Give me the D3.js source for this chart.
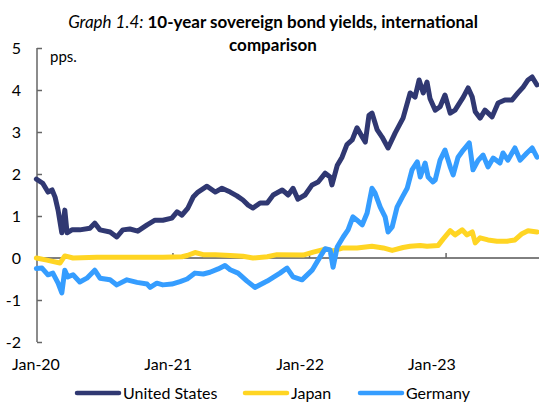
<!DOCTYPE html>
<html><head><meta charset="utf-8">
<script src="https://cdn.jsdelivr.net/npm/d3@7"></script>
<style>
html,body{margin:0;padding:0;background:#fff;}
svg{display:block;font-family:Lato,"Open Sans",sans-serif;}
</style></head>
<body>
<svg id="chart" width="539" height="403"></svg>
<script>
const seriesNames = ["United States", "Japan", "Germany"];
const seriesColors = ["#303872", "#FFD523", "#359DFF"];
const yTicks = [5, 4, 3, 2, 1, 0, -1, -2];
const xTickLabels = ["Jan-20", "Jan-21", "Jan-22", "Jan-23"];
const xTickDates = ["2020-01-01", "2021-01-01", "2022-01-01", "2023-01-01"];

const usDates = ["2020-01-02","2020-01-19","2020-02-02","2020-02-13","2020-02-21","2020-02-29","2020-03-10","2020-03-18","2020-03-24","2020-04-06","2020-04-27","2020-05-24","2020-06-06","2020-06-20","2020-07-17","2020-08-04","2020-08-20","2020-09-08","2020-09-29","2020-10-24","2020-11-14","2020-12-05","2020-12-29","2021-01-12","2021-01-25","2021-02-10","2021-02-24","2021-03-09","2021-04-02","2021-04-24","2021-05-12","2021-06-03","2021-06-21","2021-07-07","2021-07-21","2021-08-03","2021-08-22","2021-09-10","2021-09-26","2021-10-20","2021-11-05","2021-11-18","2021-12-01","2021-12-20","2022-01-08","2022-01-24","2022-02-12","2022-02-25","2022-03-02","2022-03-16","2022-03-29","2022-04-11","2022-04-25","2022-05-08","2022-05-22","2022-05-30","2022-06-09","2022-06-17","2022-07-01","2022-07-14","2022-07-30","2022-08-18","2022-09-08","2022-09-27","2022-10-10","2022-10-21","2022-11-01","2022-11-11","2022-11-19","2022-12-03","2022-12-16","2022-12-29","2023-01-12","2023-01-25","2023-02-16","2023-03-01","2023-03-12","2023-03-20","2023-04-02","2023-04-15","2023-05-04","2023-05-20","2023-06-07","2023-06-26","2023-07-12","2023-07-26","2023-08-08","2023-08-19","2023-09-01"];
const usValues = [1.88,1.78,1.57,1.62,1.45,1.14,0.60,1.14,0.60,0.67,0.67,0.71,0.83,0.67,0.62,0.50,0.67,0.69,0.64,0.79,0.90,0.90,0.95,1.10,1.02,1.19,1.45,1.57,1.71,1.57,1.66,1.57,1.48,1.38,1.26,1.19,1.31,1.31,1.50,1.62,1.50,1.66,1.40,1.50,1.74,1.81,2.02,1.93,1.74,2.20,2.40,2.70,2.81,3.10,2.88,2.76,3.40,3.45,3.05,2.88,2.62,2.98,3.33,3.93,3.83,4.24,3.93,4.19,3.80,3.52,3.60,3.88,3.45,3.52,3.83,4.05,3.83,3.48,3.33,3.52,3.36,3.69,3.76,3.76,3.93,4.07,4.24,4.31,4.12];

const jpDates = ["2020-01-02","2020-01-30","2020-03-05","2020-03-18","2020-04-09","2020-06-12","2020-09-08","2020-12-05","2021-01-25","2021-02-08","2021-03-01","2021-03-23","2021-04-24","2021-06-03","2021-07-07","2021-08-03","2021-09-10","2021-10-06","2021-12-15","2022-01-11","2022-02-12","2022-03-05","2022-04-01","2022-05-08","2022-06-17","2022-07-17","2022-08-10","2022-09-08","2022-09-27","2022-10-24","2022-11-11","2022-12-11","2022-12-24","2023-01-12","2023-01-25","2023-02-13","2023-02-26","2023-03-12","2023-03-20","2023-04-02","2023-04-23","2023-05-17","2023-06-13","2023-07-04","2023-07-23","2023-08-08","2023-09-01"];
const jpValues = [0.00,-0.05,-0.12,0.05,0.00,0.02,0.02,0.02,0.03,0.06,0.13,0.08,0.08,0.06,0.04,0.00,0.03,0.08,0.07,0.14,0.21,0.17,0.24,0.24,0.28,0.24,0.18,0.25,0.28,0.30,0.28,0.30,0.45,0.65,0.55,0.67,0.55,0.62,0.36,0.48,0.43,0.40,0.40,0.43,0.58,0.65,0.62];

const deDates = ["2020-01-02","2020-01-17","2020-02-02","2020-02-15","2020-02-29","2020-03-10","2020-03-18","2020-03-26","2020-04-09","2020-04-27","2020-05-16","2020-06-06","2020-06-20","2020-07-17","2020-08-04","2020-08-31","2020-09-27","2020-10-24","2020-11-01","2020-11-19","2020-12-05","2020-12-29","2021-01-20","2021-02-08","2021-03-01","2021-03-23","2021-04-10","2021-05-02","2021-05-20","2021-06-03","2021-06-24","2021-07-18","2021-08-08","2021-09-10","2021-10-14","2021-11-02","2021-11-18","2021-12-12","2022-01-08","2022-01-24","2022-02-06","2022-02-12","2022-02-25","2022-03-05","2022-03-16","2022-04-01","2022-04-14","2022-04-27","2022-05-08","2022-05-22","2022-06-04","2022-06-17","2022-06-25","2022-07-09","2022-07-22","2022-07-30","2022-08-10","2022-08-23","2022-09-06","2022-09-19","2022-10-02","2022-10-16","2022-10-24","2022-11-06","2022-11-14","2022-11-27","2022-12-03","2022-12-16","2022-12-29","2023-01-12","2023-01-20","2023-02-02","2023-02-16","2023-03-04","2023-03-14","2023-03-28","2023-04-10","2023-04-23","2023-05-07","2023-05-25","2023-06-02","2023-06-15","2023-07-04","2023-07-18","2023-08-05","2023-08-19","2023-09-01"];
const deValues = [-0.25,-0.24,-0.40,-0.36,-0.60,-0.83,-0.29,-0.45,-0.40,-0.57,-0.48,-0.29,-0.48,-0.52,-0.64,-0.52,-0.58,-0.62,-0.70,-0.60,-0.64,-0.62,-0.56,-0.50,-0.36,-0.38,-0.34,-0.26,-0.18,-0.28,-0.36,-0.55,-0.70,-0.55,-0.36,-0.24,-0.45,-0.52,-0.29,-0.05,0.14,0.22,0.19,-0.22,0.26,0.50,0.67,0.98,0.90,0.79,1.07,1.66,1.55,1.21,0.98,0.62,0.74,1.21,1.45,1.66,2.10,2.29,1.93,2.26,1.93,1.81,1.86,2.33,2.57,2.17,1.98,2.40,2.57,2.74,2.10,2.33,2.45,2.17,2.38,2.26,2.50,2.33,2.62,2.33,2.50,2.62,2.40];

const parse = d3.timeParse("%Y-%m-%d");
const series = [
  {name: seriesNames[0], color: seriesColors[0], pts: usDates.map((d,i)=>({date: parse(d), v: usValues[i]}))},
  {name: seriesNames[1], color: seriesColors[1], pts: jpDates.map((d,i)=>({date: parse(d), v: jpValues[i]}))},
  {name: seriesNames[2], color: seriesColors[2], pts: deDates.map((d,i)=>({date: parse(d), v: deValues[i]}))}
];

const svg = d3.select("#chart");
const x = d3.scaleTime().domain([parse("2020-01-01"), parse("2023-09-01")]).range([36, 537]);
const xLabel = d3.scaleTime().domain([parse("2020-01-01"), parse("2023-01-01")]).range([36, 432]);
const y = d3.scaleLinear().domain([-2, 5]).range([342, 48]);
const axisColor = "#666";

// Title
const title = svg.append("text").attr("x", 273).attr("y", 28).attr("text-anchor", "middle")
  .attr("font-size", 17).attr("fill", "#000");
title.append("tspan").attr("font-style", "italic").text("Graph 1.4: ");
title.append("tspan").attr("font-weight", "bold").text("10-year sovereign bond yields, international");
svg.append("text").attr("x", 273).attr("y", 51).attr("text-anchor", "middle")
  .attr("font-size", 17).attr("font-weight", "bold").attr("fill", "#000").text("comparison");

// Y axis
const yAxis = d3.axisRight(y).tickValues(yTicks).tickSize(5).tickFormat("");
const ga = svg.append("g").attr("transform", "translate(37,0)").call(yAxis);
ga.select(".domain").attr("stroke", axisColor).attr("stroke-width", 1.5).attr("d", `M0,${y(5)}V${y(-2)}`);
ga.selectAll(".tick line").attr("stroke", axisColor).attr("stroke-width", 1.5);
svg.append("g").selectAll("text").data(yTicks).join("text")
  .attr("x", 21).attr("y", d => y(d)).attr("dy", "0.36em").attr("text-anchor", "end")
  .attr("font-size", 16).attr("fill", "#000").text(d => d);

svg.append("text").attr("x", 50).attr("y", 62).attr("font-size", 15).attr("fill", "#000").text("pps.");

// Zero line with year ticks
svg.append("line").attr("x1", 37).attr("x2", 539).attr("y1", y(0)).attr("y2", y(0))
  .attr("stroke", "#000").attr("stroke-width", 1);
svg.append("g").selectAll("line").data(xTickDates.slice(1)).join("line")
  .attr("x1", d => x(parse(d))).attr("x2", d => x(parse(d)))
  .attr("y1", y(0) - 5).attr("y2", y(0)).attr("stroke", axisColor).attr("stroke-width", 1.5);

// X labels
svg.append("g").selectAll("text").data(xTickDates).join("text")
  .attr("x", d => xLabel(parse(d))).attr("y", 370).attr("text-anchor", "middle")
  .attr("font-size", 16).attr("fill", "#000").text((d,i) => xTickLabels[i]);

// Lines
const line = d3.line().x(d => x(d.date)).y(d => y(d.v)).curve(d3.curveLinear);
svg.append("g").selectAll("path").data(series).join("path")
  .attr("d", d => line(d.pts)).attr("fill", "none").attr("stroke", d => d.color)
  .attr("stroke-width", 5).attr("stroke-linejoin", "round").attr("stroke-linecap", "round");

// Legend
const legX = [77, 245, 360];
const lg = svg.append("g").selectAll("g").data(series).join("g")
  .attr("transform", (d,i) => `translate(${legX[i]},393)`);
lg.append("line").attr("x1", 0).attr("x2", 42).attr("y1", 0).attr("y2", 0)
  .attr("stroke", d => d.color).attr("stroke-width", 4.5).attr("stroke-linecap", "round");
lg.append("text").attr("x", 46).attr("y", 0).attr("dy", "0.36em").attr("font-size", 16)
  .attr("fill", "#000").text(d => d.name);
</script>
</body></html>
